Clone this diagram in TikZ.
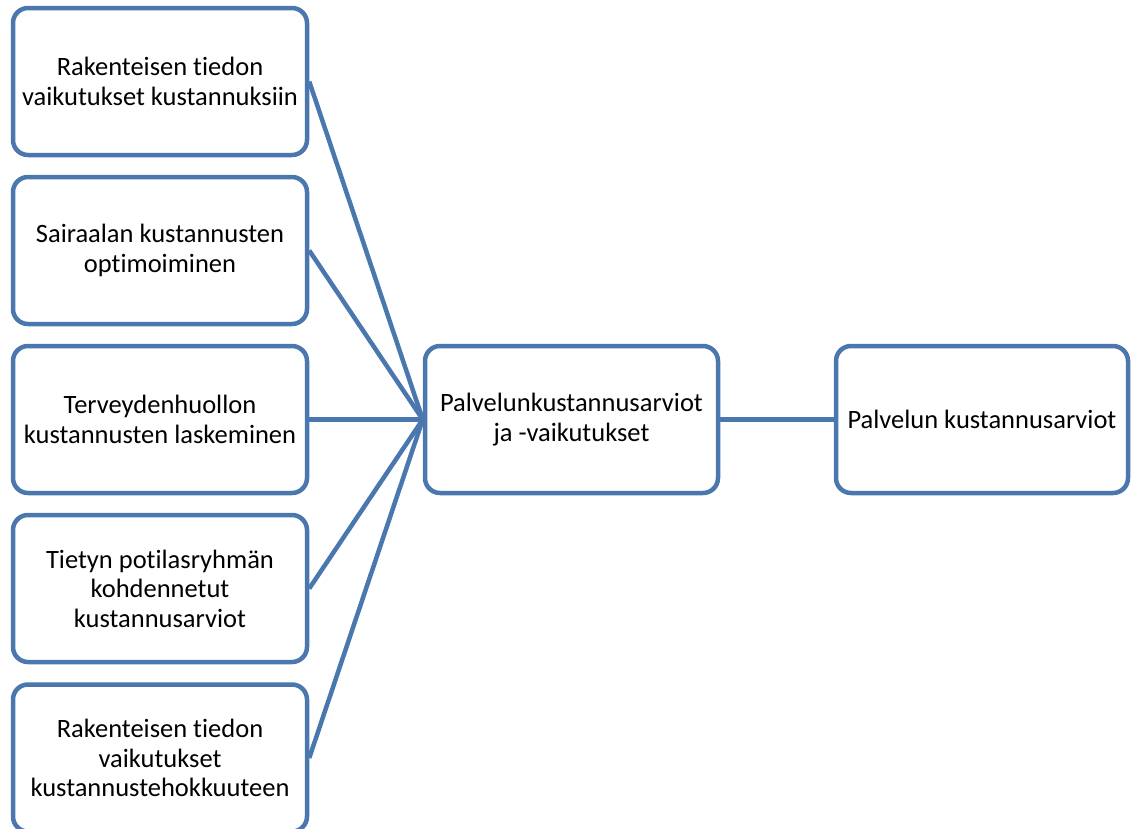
\documentclass[tikz,border=0pt]{standalone}
\usepackage{fontspec}
\setmainfont{Carlito}[Ligatures=NoCommon]
\definecolor{boxblue}{RGB}{74,119,174}
\begin{document}
\begin{tikzpicture}[x=1pt,y=-1pt,
  card/.style={draw=boxblue, line width=4.5pt, rounded corners=15pt, fill=white,
    minimum width=294pt, minimum height=147pt, inner sep=0pt, align=center,
    font=\fontsize{26.5}{29.5}\selectfont},
  link/.style={draw=boxblue, line width=4.5pt}]
\useasboundingbox (0,0) rectangle (1132,828);
% source boxes on the left
\node[card] (l1) at (160,81.5) {Rakenteisen tiedon\\vaikutukset kustannuksiin};
\node[card] (l2) at (160,250.5) {Sairaalan kustannusten\\optimoiminen};
\node[card] (l3) at (160,419.5) {Terveydenhuollon\\kustannusten laskeminen};
\node[card] (l4) at (160,588.5) {Tietyn potilasryhmän\\kohdennetut\\kustannusarviot};
\node[card] (l5) at (160,758) {Rakenteisen tiedon\\vaikutukset\\kustannustehokkuuteen};
% central and result boxes
\node[card, minimum width=293pt] (mid) at (571.5,419.5) {Palvelunkustannusarviot\\ja -vaikutukset};
\node[card, minimum width=292pt] (res) at (982,419.5) {Palvelun kustannusarviot};
% connectors
\foreach \n in {l1,l2,l3,l4,l5} \draw[link] (\n.east) -- (mid.west);
\draw[link] (mid.east) -- (res.west);
\end{tikzpicture}
\end{document}
